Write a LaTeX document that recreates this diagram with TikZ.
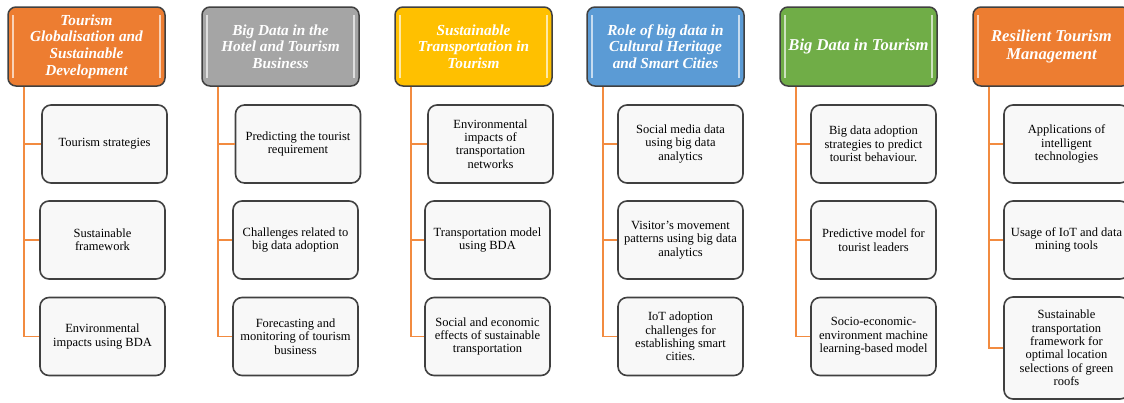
\documentclass[tikz,border=0pt]{standalone}
\usepackage{fontspec}
\setmainfont{Liberation Serif}
\usepackage{tikz}
\definecolor{hOrange}{HTML}{ED7D31}
\definecolor{hGray}{HTML}{A5A5A5}
\definecolor{hYellow}{HTML}{FFC000}
\definecolor{hBlue}{HTML}{5B9BD5}
\definecolor{hGreen}{HTML}{70AD47}
\definecolor{rimGray}{HTML}{404040}
\definecolor{itemFill}{HTML}{F8F8F8}
\definecolor{trunkOrange}{HTML}{F28B40}
\tikzset{
  % coloured title box with two light bars inside
  head/.style={
    draw=rimGray, line width=1.5pt, fill=#1, rounded corners=8pt,
    minimum width=157pt, minimum height=79pt, inner xsep=2pt,
    align=center, text=white,
    font=\fontsize{15.3}{16.7}\selectfont\bfseries\itshape,
    path picture={
      \draw[white!65!#1, line width=2pt]
        ([xshift=5pt,yshift=-8pt]path picture bounding box.north west) --
        ([xshift=5pt,yshift=8pt]path picture bounding box.south west);
      \draw[white!65!#1, line width=2pt]
        ([xshift=-5pt,yshift=-8pt]path picture bounding box.north east) --
        ([xshift=-5pt,yshift=8pt]path picture bounding box.south east);
    }},
  bighead/.style={font=\fontsize{16.6}{18.5}\selectfont\bfseries\itshape},
  % plain topic box
  item/.style={
    draw=rimGray, line width=1.6pt, fill=itemFill, rounded corners=9pt,
    minimum width=125pt, minimum height=78pt, inner xsep=1pt,
    align=center, font=\fontsize{12.5}{13.4}\selectfont},
  % orange tree line
  trunk/.style={draw=trunkOrange, line width=1.6pt},
}

\begin{document}
\begin{tikzpicture}[x=1pt,y=-1pt]

\useasboundingbox (0,0) rectangle (1124,402);

% Titles
\node[head=hOrange] (ha) at (86.5,46.5) {Tourism\\Globalisation and\\Sustainable\\Development};
\node[head=hGray] (hb) at (280.5,46.5) {Big Data in the\\Hotel and Tourism\\Business};
\node[head=hYellow] (hc) at (473.5,46.5) {Sustainable\\Transportation in\\Tourism};
\node[head=hBlue] (hd) at (665.5,46.5) {Role of big data in\\Cultural Heritage\\and Smart Cities};
\node[head=hGreen, bighead] (he) at (858.5,46.5) {Big Data in Tourism};
\node[head=hOrange, bighead] (hf) at (1051.5,46.5) {Resilient Tourism\\Management};

% Column 1
\node[item] (a1) at (104.5,144) {Tourism strategies};
\node[item] (a2) at (102.5,240) {Sustainable\\framework};
\node[item] (a3) at (102.5,336.5) {Environmental\\impacts using BDA};

% Column 2
\node[item] (b1) at (298,144) {Predicting the tourist\\requirement};
\node[item] (b2) at (295.5,240) {Challenges related to\\big data adoption};
\node[item] (b3) at (295.5,336.5) {Forecasting and\\monitoring of tourism\\business};

% Column 3
\node[item] (c1) at (490.5,144) {Environmental\\impacts of\\transportation\\networks};
\node[item] (c2) at (487.5,240) {Transportation model\\using BDA};
\node[item] (c3) at (487.5,336.5) {Social and economic\\effects of sustainable\\transportation};

% Column 4
\node[item] (d1) at (680.5,144) {Social media data\\using big data\\analytics};
\node[item] (d2) at (680.5,240) {Visitor's movement\\patterns using big data\\analytics};
\node[item] (d3) at (680.5,336.5) {IoT adoption\\challenges for\\establishing smart\\cities.};

% Column 5
\node[item] (e1) at (873.5,144) {Big data adoption\\strategies to predict\\tourist behaviour.};
\node[item] (e2) at (873.5,240) {Predictive model for\\tourist leaders};
\node[item] (e3) at (873.5,336.5) {Socio-economic-\\environment machine\\learning-based model};

% Column 6
\node[item] (f1) at (1066.5,144) {Applications of\\intelligent\\technologies};
\node[item] (f2) at (1066.5,240) {Usage of IoT and data\\mining tools};
\node[item, minimum height=102pt] (f3) at (1066.5,348) {Sustainable\\transportation\\framework for\\optimal location\\selections of green\\roofs};

% Tree lines
\foreach \c in {a,b,c,d,e,f} {
  \foreach \r in {1,2,3} {
    \draw[trunk] ([xshift=17pt]h\c.south west) |- (\c\r.west);
  }
}

\end{tikzpicture}
\end{document}
